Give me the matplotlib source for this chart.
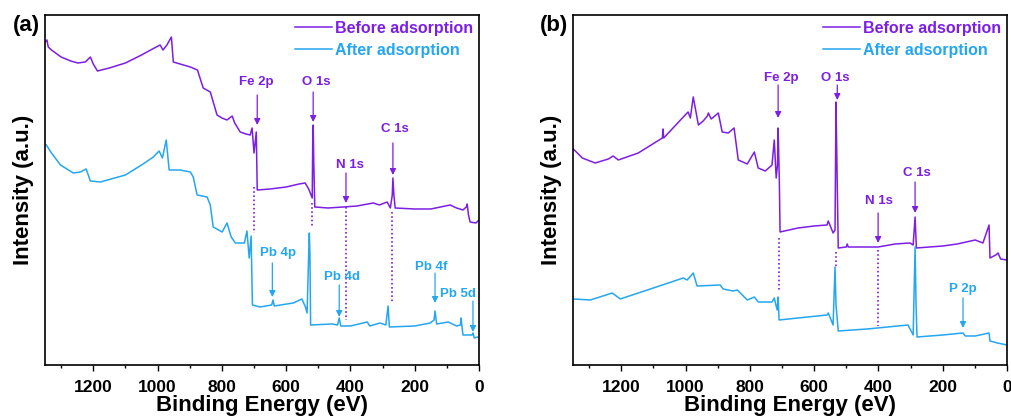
import matplotlib
matplotlib.use("Agg")
import matplotlib.pyplot as plt
from matplotlib.ticker import MultipleLocator

plt.rcParams['font.family'] = ['Liberation Sans', 'DejaVu Sans']
plt.rcParams['font.weight'] = 'bold'

PURPLE = '#7C1EE4'
BLUE = '#24A6F0'

# ---------------- data: panel (a) ----------------
a_before_E = [1349, 1344, 1340, 1330, 1300, 1270, 1248, 1225, 1209, 1200, 1187, 1150, 1100, 1050, 1010,
              992, 983, 971, 957, 951, 930, 898, 876, 858, 836, 815, 800, 784, 768, 760, 743, 725, 712,
              706, 700, 693, 690, 650, 600, 560, 541, 530, 519, 517, 516, 514, 511, 470, 422, 380, 329,
              310, 286, 276, 270, 268, 265, 261, 200, 150, 90, 70, 50, 40, 37, 33, 28, 10, 0]
a_before_I = [323, 325, 318, 315, 308, 304, 302, 303, 308, 301, 294, 297, 302, 310, 317,
              320, 315, 320, 328, 303, 301, 298, 295, 277, 273, 250, 247, 245, 249, 242, 233, 231, 230,
              237, 212, 233, 175, 176, 178, 181, 182, 176, 167, 235, 240, 200, 158, 157, 158, 159, 162,
              160, 163, 157, 170, 187, 170, 157, 156, 156, 160, 157, 155, 158, 161, 150, 143, 142, 145]

a_after_E = [1346, 1330, 1302, 1262, 1240, 1222, 1209, 1178, 1100, 1050, 1013, 995, 985, 973, 964, 930,
             898, 889, 877, 846, 836, 827, 799, 784, 771, 758, 730, 722, 715, 709, 705, 681, 645, 641,
             637, 578, 551, 540, 535, 530, 528, 526, 524, 457, 440, 435, 430, 400, 348, 340, 308, 290,
             283, 279, 200, 152, 140, 137, 132, 96, 70, 58, 56, 52, 50, 30, 22, 19, 15, 5, 0]
a_after_I = [220, 212, 200, 192, 193, 196, 184, 183, 190, 200, 208, 214, 207, 225, 195, 195,
             193, 188, 170, 168, 160, 138, 133, 142, 128, 122, 122, 134, 107, 129, 60, 58, 60, 65,
             59, 62, 66, 58, 52, 110, 132, 110, 40, 41, 40, 47, 39, 39, 43, 39, 42, 40,
             59, 38, 39, 42, 45, 54, 41, 43, 39, 40, 47, 35, 30, 30, 30, 32, 27, 28, 27]

# ---------------- data: panel (b) ----------------
b_before_E = [1349, 1321, 1281, 1240, 1225, 1209, 1147, 1072, 1070, 1068, 1001, 992, 985, 976, 960, 945,
              932, 929, 920, 898, 886, 867, 849, 836, 808, 786, 774, 752, 731, 724, 718, 714, 712, 708,
              706, 650, 600, 560, 556, 541, 535, 532, 529, 525, 500, 497, 494, 401, 348, 302, 292, 286,
              282, 200, 155, 99, 75, 56, 53, 35, 28, 20, 0]
b_before_I = [216, 207, 202, 206, 209, 205, 212, 227, 236, 227, 250, 253, 247, 268, 240, 244,
              249, 252, 246, 252, 233, 232, 237, 205, 201, 213, 197, 194, 200, 225, 187, 200, 237, 180,
              133, 137, 139, 140, 144, 132, 135, 263, 200, 117, 118, 121, 118, 118, 121, 122, 120, 148,
              117, 119, 121, 125, 122, 140, 107, 110, 112, 106, 105]

b_after_E = [1349, 1296, 1228, 1203, 1100, 1007, 995, 976, 964, 892, 883, 852, 839, 808, 786, 774, 731,
             724, 715, 712, 709, 650, 560, 556, 541, 535, 532, 525, 435, 308, 292, 286, 283, 280, 200,
             137, 130, 99, 56, 53, 30, 0]
b_after_I = [66, 65, 72, 66, 77, 87, 85, 92, 79, 80, 76, 74, 75, 65, 68, 63, 63,
             67, 55, 68, 45, 47, 50, 52, 40, 98, 60, 34, 36, 40, 30, 118, 60, 28, 30,
             32, 29, 29, 32, 24, 22, 20]

legend_labels = ['Before adsorption', 'After adsorption']
xticks_major = [0, 200, 400, 600, 800, 1000, 1200]

# annotations: (label, text E, text I, arrow E, arrow top I, arrow head I, color)
a_ann = [('Fe 2p', 693, 283, 690, 270, 240, PURPLE),
         ('O 1s', 507, 283, 516, 273, 243, PURPLE),
         ('N 1s', 401, 200, 414, 192, 162, PURPLE),
         ('C 1s', 261, 236, 268, 222, 190, PURPLE),
         ('Pb 4p', 625, 112, 643, 102, 68, BLUE),
         ('Pb 4d', 426, 88, 435, 80, 48, BLUE),
         ('Pb 4f', 149, 98, 137, 92, 62, BLUE),
         ('Pb 5d', 65, 71, 19, 64, 33, BLUE)]
a_dots = [(700, 178, 132), (519, 162, 137), (414, 158, 45), (270, 153, 62)]

b_ann = [('Fe 2p', 703, 287, 712, 280, 247, PURPLE),
         ('O 1s', 535, 287, 528, 280, 265, PURPLE),
         ('C 1s', 280, 192, 286, 183, 152, PURPLE),
         ('N 1s', 398, 164, 401, 152, 122, PURPLE),
         ('P 2p', 137, 76, 137, 67, 37, BLUE)]
b_dots = [(709, 127, 73), (532, 113, 98), (401, 115, 39)]

fig = plt.figure(figsize=(10.12, 4.19), dpi=100)
axA = fig.add_axes([0.0445, 0.1289, 0.4289, 0.8353])
axB = fig.add_axes([0.5662, 0.1289, 0.4289, 0.8353])

panels = [(axA, a_before_E, a_before_I, a_after_E, a_after_I, a_ann, a_dots, '(a)'),
          (axB, b_before_E, b_before_I, b_after_E, b_after_I, b_ann, b_dots, '(b)')]

for ax, bE, bI, aE, aI, ann, dots, tag in panels:
    l1, = ax.plot(bE, bI, color=PURPLE, lw=1.1)
    l2, = ax.plot(aE, aI, color=BLUE, lw=1.1)
    for E, top, bot in dots:
        ax.plot([E, E], [top, bot], color=PURPLE, lw=1.2, ls=(0, (1, 1.5)))
    for lab, tE, tI, arE, arTop, arHead, col in ann:
        ax.annotate('', xy=(arE, arHead), xytext=(arE, arTop),
                    arrowprops=dict(arrowstyle='-|>', color=col, lw=0.9, mutation_scale=9,
                                    shrinkA=0, shrinkB=0))
        ax.text(tE, tI, lab, color=col, fontsize=9.5, fontweight='bold', ha='center', va='center')
    ax.set_xlim(1350, 0)
    ax.set_ylim(0, 350)
    ax.set_yticks([])
    ax.set_xticks(xticks_major)
    ax.xaxis.set_minor_locator(MultipleLocator(100))
    ax.tick_params(axis='x', which='major', direction='out', length=4, width=1, labelsize=12.5, pad=7)
    ax.tick_params(axis='x', which='minor', direction='out', length=2.5, width=1)
    for lbl in ax.get_xticklabels():
        lbl.set_fontweight('bold')
    for s in ax.spines.values():
        s.set_linewidth(1.2)
    ax.set_xlabel('Binding Energy (eV)', fontsize=16, fontweight='bold', labelpad=0)
    ax.set_ylabel('Intensity (a.u.)', fontsize=16, fontweight='bold', labelpad=8)
    leg = ax.legend([l1, l2], legend_labels, loc='upper right', frameon=False,
                    handlelength=2.3, handletextpad=0.2, borderaxespad=0.1, borderpad=0.25,
                    labelspacing=0.45, prop={'weight': 'bold', 'size': 11.5})
    for t, c in zip(leg.get_texts(), [PURPLE, BLUE]):
        t.set_color(c)
    ax.text(-0.0115, 0.971, tag, transform=ax.transAxes, fontsize=16, fontweight='bold',
            ha='right', va='center')

fig.savefig('out.png', dpi=100)
